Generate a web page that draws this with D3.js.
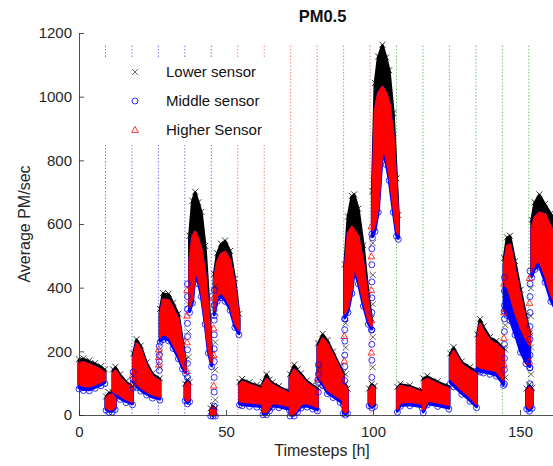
<!DOCTYPE html>
<html>
<head>
<meta charset="utf-8">
<script src="https://cdn.jsdelivr.net/npm/d3@7"></script>
<style>
body { margin: 0; background: #fff; }
svg { display: block; font-family: "Liberation Sans", Arial, Helvetica, sans-serif; }
</style>
</head>
<body>
<svg id="svg-main" width="553" height="466"></svg>
<script>
// hours of each measured block (one block per 9 h run, small low blobs between runs)
const blockHours = [
    [0, 1.5, 3.5, 5.5, 7.5, 8.8],
    [9.2, 10.2, 11.3, 12.3],
    [11.6, 12.4, 14, 16, 18.2],
    [18.5, 19.6, 21, 23, 25, 27.5],
    [27.6, 28.6, 30.5, 32, 33.8, 35.2, 36.2],
    [36.1, 36.9, 37.6],
    [37.6, 38.6, 39.5, 40.6, 41.6, 42.9, 44, 45.1],
    [44.8, 45.6, 46.4],
    [46.0, 47.0, 48.3, 49.7, 51.4, 53.0, 54.4],
    [54.6, 55.5, 58, 60.5, 62.4],
    [62.6, 63.8, 64.8, 65.8, 68, 71.6],
    [71.8, 73.2, 74.3, 75.5, 77.5, 79.5, 81.1],
    [81.3, 82.9, 84.5, 86.4, 88.8, 89.9],
    [89.9, 90.6, 91.3],
    [90.4, 91.5, 92.8, 93.6, 95.0, 96.7, 98.4, 99.5],
    [98.7, 99.6, 100.5],
    [99.8, 100.7, 101.8, 103.2, 104.5, 105.5, 106.9, 108.0, 108.6],
    [108.3, 109.3, 112.5, 116.7],
    [117.1, 118.5, 122, 125.8],
    [126.3, 127.4, 130.2, 133, 135.2],
    [135.5, 136.4, 137.6, 139.8, 142, 144.4],
    [144.6, 145.6, 146.6, 148.3, 150.2, 152, 153.3],
    [152.3, 153.2, 154.1],
    [154.0, 155.0, 156.6, 158.5, 160.5, 162.5]
];

// lower sensor (x): upper edge of its cloud
const lowerSensorMax = [
    [172, 175, 168, 160, 150, 140],
    [55, 68, 70, 58],
    [140, 148, 125, 103, 88],
    [190, 235, 215, 162, 128, 112],
    [330, 380, 378, 350, 315, 230, 170],
    [95, 108, 100],
    [560, 670, 698, 665, 635, 528, 371, 190],
    [18, 25, 20],
    [440, 505, 535, 545, 512, 425, 315],
    [100, 110, 100, 92, 85],
    [100, 125, 108, 100, 88, 72],
    [125, 155, 140, 128, 105, 92, 82],
    [222, 252, 232, 196, 150, 130],
    [90, 95, 80],
    [470, 620, 685, 690, 645, 530, 375, 300],
    [80, 95, 88],
    [700, 1040, 1123, 1160, 1120, 1080, 945, 740, 625],
    [85, 95, 90, 75],
    [112, 120, 103, 88],
    [190, 210, 165, 148, 135],
    [250, 298, 275, 242, 230, 208],
    [490, 555, 560, 480, 390, 310, 255],
    [80, 92, 82],
    [610, 665, 690, 660, 630, 600]
];

// higher sensor (triangle): upper and lower edge of its cloud
const higherSensorMax = [
    [162, 165, 158, 150, 141, 131],
    [50, 62, 64, 52],
    [131, 139, 117, 96, 82],
    [180, 224, 205, 153, 120, 105],
    [315, 362, 360, 334, 300, 220, 162],
    [90, 102, 95],
    [480, 560, 575, 550, 520, 445, 335, 180],
    [15, 22, 17],
    [425, 480, 505, 512, 485, 405, 300],
    [95, 104, 95, 87, 80],
    [94, 112, 102, 95, 83, 67],
    [115, 142, 132, 120, 99, 87, 77],
    [212, 240, 222, 188, 142, 122],
    [85, 90, 75],
    [450, 570, 590, 580, 560, 475, 350, 290],
    [75, 90, 82],
    [650, 960, 1010, 1030, 1010, 980, 880, 700, 610],
    [80, 90, 85, 70],
    [106, 113, 97, 82],
    [180, 200, 158, 140, 128],
    [240, 285, 263, 233, 222, 200],
    [470, 530, 535, 455, 370, 295, 245],
    [75, 86, 76],
    [585, 620, 635, 630, 590, 560]
];

const higherSensorMin = [
    [97, 92, 90, 97, 104, 111],
    [25, 18, 18, 28],
    [75, 70, 62, 50, 42],
    [115, 100, 88, 75, 65, 58],
    [245, 255, 248, 225, 192, 158, 142],
    [55, 45, 52],
    [340, 370, 455, 430, 390, 300, 210, 165],
    [2, 0, 2],
    [330, 375, 385, 372, 345, 290, 268],
    [45, 42, 40, 38, 35],
    [10, 10, 25, 38, 36, 28],
    [4, 5, 20, 35, 38, 32, 25],
    [125, 105, 80, 68, 53, 45],
    [15, 8, 15],
    [320, 340, 400, 470, 430, 360, 300, 280],
    [40, 30, 38],
    [580, 600, 660, 845, 810, 760, 660, 580, 570],
    [20, 40, 42, 36],
    [18, 45, 40, 32],
    [115, 105, 80, 58, 36],
    [155, 150, 147, 143, 138, 110],
    [420, 400, 380, 325, 275, 240, 220],
    [30, 22, 32],
    [450, 475, 485, 440, 380, 345]
];

// middle sensor (o): lower edge of its cloud
const middleSensorMin = [
    [85, 80, 79, 87, 95, 102],
    [18, 12, 12, 20],
    [65, 60, 52, 42, 35],
    [104, 90, 78, 66, 56, 50],
    [232, 240, 236, 212, 180, 148, 134],
    [48, 38, 45],
    [325, 355, 440, 415, 375, 288, 198, 155],
    [0, 0, 0],
    [315, 360, 372, 360, 332, 278, 255],
    [35, 32, 30, 28, 25],
    [4, 4, 16, 28, 26, 18],
    [0, 0, 12, 25, 28, 22, 16],
    [115, 95, 70, 58, 43, 35],
    [8, 3, 8],
    [305, 325, 385, 455, 415, 345, 288, 270],
    [32, 25, 30],
    [560, 580, 640, 825, 790, 740, 640, 565, 555],
    [12, 30, 32, 26],
    [10, 35, 30, 22],
    [102, 92, 68, 46, 26],
    [142, 138, 135, 131, 125, 96],
    [330, 315, 300, 255, 200, 165, 152],
    [22, 15, 24],
    [435, 460, 468, 420, 360, 325]
];

// sparse readings while the sensors moved between runs
const switchHours = [18.4, 27.3, 36.9, 46.0, 81.4, 90.4, 99.6, 144.7, 153.4];
const switchLower = [[95], [150, 198], [182, 262, 348], [48, 142, 228, 322, 405], [92, 148],
    [128, 212, 288], [150, 245, 348, 440, 540], [118, 205, 282, 380], [128, 212, 310, 398]];
const switchMiddle = [[84, 112, 135], [140, 168, 188, 216], [118, 162, 205, 246, 288, 332, 372, 412],
    [28, 72, 118, 168, 208, 252, 298, 345, 392], [72, 102, 128, 158], [108, 152, 188, 232, 268, 302],
    [118, 172, 222, 268, 322, 368, 418, 472, 522, 568], [98, 142, 178, 222, 262, 302, 345, 390, 432],
    [98, 148, 188, 238, 278, 322, 372, 412, 452]];
const switchHigher = [[100, 125], [158, 182, 206], [138, 228, 312, 392], [92, 188, 272, 368], [115],
    [170, 248], [196, 298, 392, 498, 592], [160, 242, 322, 412], [168, 262, 352, 430]];

const blueEvents = [9, 18, 27, 36, 45];
const redEvents = [54, 63, 72, 81, 90, 99];
const greenEvents = [108, 117, 126, 135, 144, 153, 162];
const eventTop = 1160;

const yTicks = [0, 200, 400, 600, 800, 1000, 1200];
const xTicks = [0, 50, 100, 150];
const legendLabels = ["Lower sensor", "Middle sensor", "Higher Sensor"];

var Dims = {
    Left: 79,
    Top: 33,
    Bottom: 415,
    PxPerHour: 2.94
};

var svg = d3.select("svg#svg-main");

var x = d3.scaleLinear().domain([0, 170]).range([Dims.Left, Dims.Left + 170 * Dims.PxPerHour]);
var y = d3.scaleLinear().domain([0, 1200]).range([Dims.Bottom, Dims.Top]);

var crossPath = "M-3,-3L3,3M-3,3L3,-3";
var triPath = "M0,-3.6L3.3,2.4L-3.3,2.4Z";

drawEvents();
drawClouds();
drawSwitches();
drawAxes();
drawLegend();
drawLabels();

function drawEvents() {
    var grp = svg.append("g").attr("class", "events-grp");
    var sets = [[blueEvents, "#3b3bff"], [redEvents, "#ff4a4a"], [greenEvents, "#33aa33"]];
    sets.forEach(function (s) {
        grp.selectAll(null)
            .data(s[0])
            .enter()
            .append("line")
            .attr("x1", d => x(d))
            .attr("x2", d => x(d))
            .attr("y1", y(eventTop))
            .attr("y2", y(0))
            .attr("stroke", s[1])
            .attr("stroke-width", 1)
            .attr("stroke-dasharray", "1.3,2")
            .attr("opacity", 0.8);
    });
}

function blockRows(i, lo, hi) {
    return blockHours[i].map(function (t, j) {
        return { t: t, lo: lo[i][j], hi: hi[i][j] };
    });
}

function drawBand(grp, lo, hi, color, width) {
    var area = d3.area()
        .x(d => x(d.t))
        .y0(d => y(d.lo))
        .y1(d => y(d.hi));

    grp.selectAll(null)
        .data(blockHours.map((h, i) => blockRows(i, lo, hi)))
        .enter()
        .append("path")
        .attr("d", area)
        .attr("fill", color)
        .attr("stroke", color)
        .attr("stroke-width", width)
        .attr("stroke-linejoin", "round");
}

function edgePoints(values) {
    var pts = [];
    blockHours.forEach(function (hours, i) {
        hours.forEach(function (t, j) {
            pts.push({ t: t, v: values[i][j] });
        });
    });
    return pts;
}

function drawClouds() {
    var grp = svg.append("g").attr("class", "clouds-grp");

    // lower sensor
    drawBand(grp, higherSensorMin, lowerSensorMax, "#000", 3);
    grp.selectAll(null)
        .data(edgePoints(lowerSensorMax))
        .enter()
        .append("path")
        .attr("d", crossPath)
        .attr("transform", d => `translate(${x(d.t)},${y(d.v) - 1})`)
        .attr("fill", "none")
        .attr("stroke", "#000")
        .attr("stroke-width", 0.8);

    // middle sensor
    drawBand(grp, middleSensorMin, higherSensorMax, "#0000ff", 3);
    grp.selectAll(null)
        .data(edgePoints(middleSensorMin))
        .enter()
        .append("circle")
        .attr("cx", d => x(d.t))
        .attr("cy", d => y(d.v) + 1)
        .attr("r", 3)
        .attr("fill", "none")
        .attr("stroke", "#0000ff")
        .attr("stroke-width", 0.8);

    // higher sensor on top
    drawBand(grp, higherSensorMin, higherSensorMax, "#ff0000", 2.5);
}

function drawSwitches() {
    var grp = svg.append("g").attr("class", "switch-grp");
    switchHours.forEach(function (t, i) {
        grp.selectAll(null)
            .data(switchLower[i])
            .enter()
            .append("path")
            .attr("d", crossPath)
            .attr("transform", d => `translate(${x(t) + 1},${y(d)})`)
            .attr("fill", "none")
            .attr("stroke", "#222")
            .attr("stroke-width", 0.7);
        grp.selectAll(null)
            .data(switchMiddle[i])
            .enter()
            .append("circle")
            .attr("cx", x(t))
            .attr("cy", d => y(d))
            .attr("r", 3)
            .attr("fill", "none")
            .attr("stroke", "#0000ff")
            .attr("stroke-width", 0.8);
        grp.selectAll(null)
            .data(switchHigher[i])
            .enter()
            .append("path")
            .attr("d", triPath)
            .attr("transform", d => `translate(${x(t) - 0.5},${y(d)})`)
            .attr("fill", "none")
            .attr("stroke", "#ff0000")
            .attr("stroke-width", 0.8);
    });
}

function drawAxes() {
    var yAxis = d3.axisLeft(y)
        .tickValues(yTicks)
        .tickFormat(d3.format("d"))
        .tickSizeInner(-5)
        .tickSizeOuter(0)
        .tickPadding(7);

    var xAxis = d3.axisBottom(x)
        .tickValues(xTicks)
        .tickFormat(d3.format("d"))
        .tickSizeInner(-5)
        .tickSizeOuter(0)
        .tickPadding(11);

    var gy = svg.append("g")
        .attr("transform", `translate(${Dims.Left},0)`)
        .call(yAxis);

    var gx = svg.append("g")
        .attr("transform", `translate(0,${Dims.Bottom})`)
        .call(xAxis);

    [gx, gy].forEach(function (g) {
        g.attr("font-family", null).attr("font-size", 15);
        g.selectAll("path, line").attr("stroke", "#262626").attr("stroke-width", 0.8);
        g.selectAll("text").attr("fill", "#262626");
    });
}

function drawLegend() {
    var grp = svg.append("g").attr("class", "legend-grp");
    grp.append("rect")
        .attr("x", 96)
        .attr("y", 57)
        .attr("width", 188)
        .attr("height", 88)
        .attr("fill", "#fff");

    var rows = grp.selectAll(null)
        .data(legendLabels)
        .enter()
        .append("g")
        .attr("transform", (d, i) => `translate(135,${72 + i * 29})`);

    rows.filter((d, i) => i === 0).append("path")
        .attr("d", crossPath).attr("fill", "none").attr("stroke", "#222").attr("stroke-width", 0.7);
    rows.filter((d, i) => i === 1).append("circle")
        .attr("r", 3).attr("fill", "none").attr("stroke", "#0000ff").attr("stroke-width", 0.8);
    rows.filter((d, i) => i === 2).append("path")
        .attr("d", triPath).attr("fill", "none").attr("stroke", "#ff0000").attr("stroke-width", 0.8);

    rows.append("text")
        .attr("x", 31)
        .attr("dy", "0.36em")
        .attr("font-size", 15)
        .attr("fill", "#111")
        .text(d => d);
}

function drawLabels() {
    svg.append("text")
        .attr("x", 322.5)
        .attr("y", 22)
        .attr("text-anchor", "middle")
        .attr("font-size", 16.5)
        .attr("font-weight", "bold")
        .attr("fill", "#111")
        .text("PM0.5");

    svg.append("text")
        .attr("x", 322)
        .attr("y", 456)
        .attr("text-anchor", "middle")
        .attr("font-size", 16)
        .attr("fill", "#262626")
        .text("Timesteps [h]");

    svg.append("text")
        .attr("transform", "translate(30,224) rotate(-90)")
        .attr("text-anchor", "middle")
        .attr("font-size", 16)
        .attr("fill", "#262626")
        .text("Average PM/sec");
}
</script>
</body>
</html>
